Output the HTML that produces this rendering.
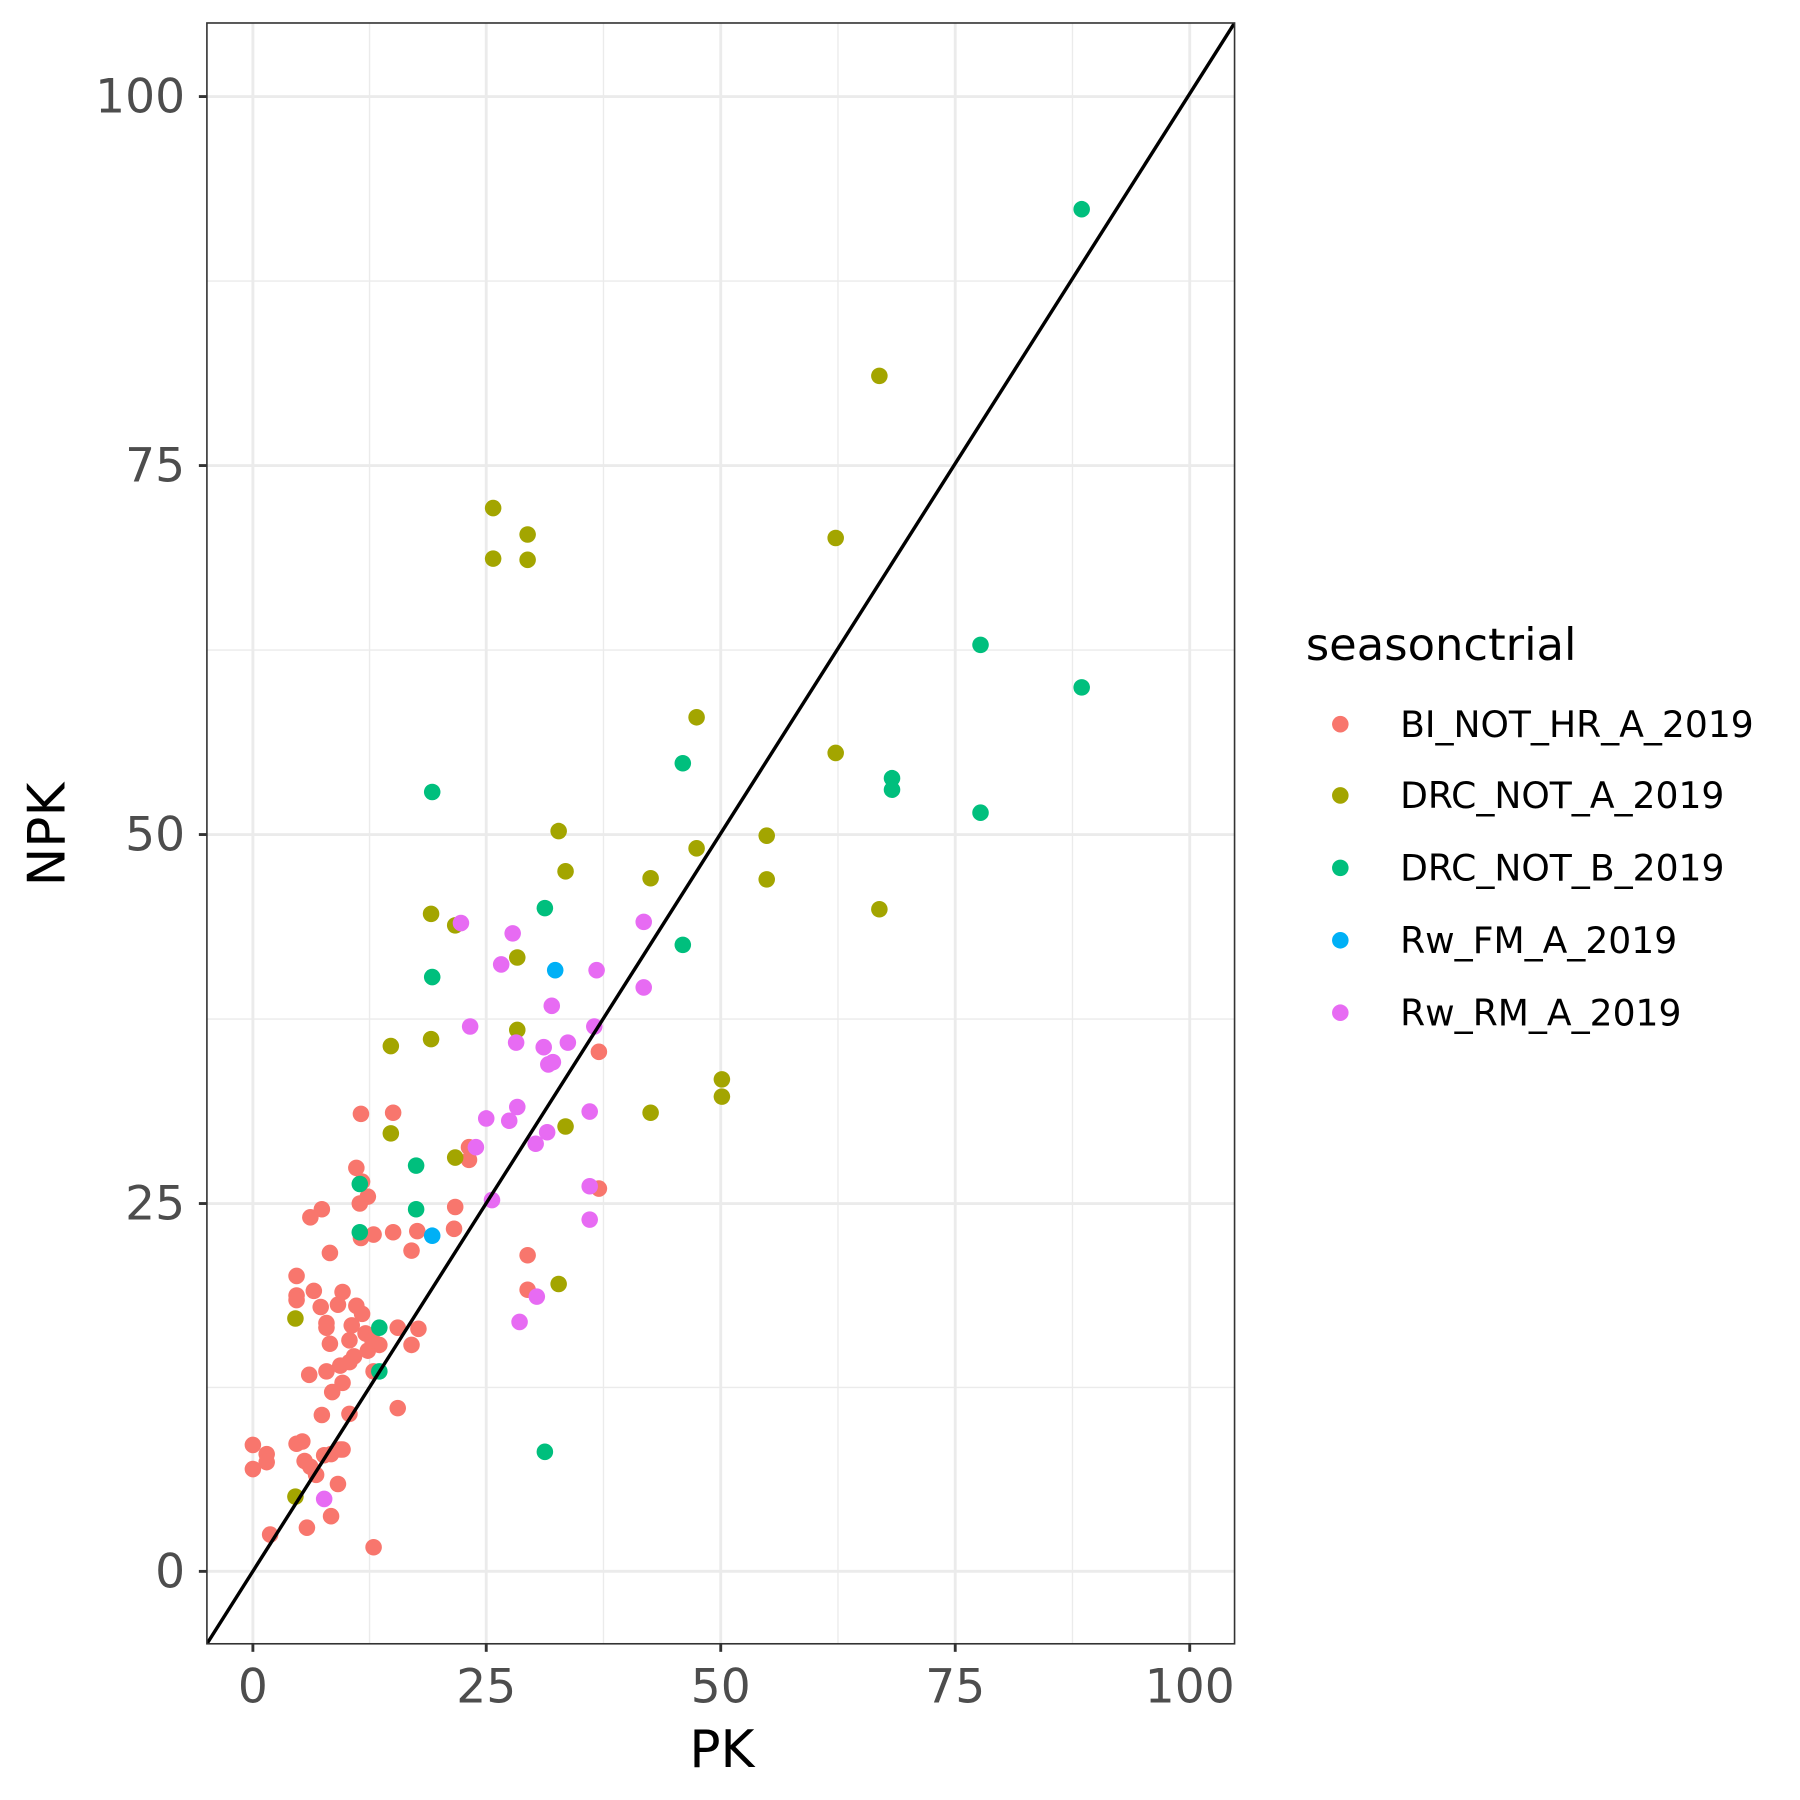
<!DOCTYPE html>
<html><head><style>html,body{margin:0;padding:0;background:#fff}svg{display:block}</style></head><body>
<svg width="1800" height="1800" viewBox="0 0 1800 1800" xmlns="http://www.w3.org/2000/svg" font-family="DejaVu Sans, Liberation Sans, sans-serif">
<rect width="1800" height="1800" fill="#fff"/>
<g transform="scale(1.1495)">
<defs><clipPath id="c"><rect x="180" y="20" width="894" height="1410"/></clipPath></defs>
<g stroke="#EBEBEB" stroke-width="1.2">
<line x1="321.5" y1="20" x2="321.5" y2="1430"/><line x1="525" y1="20" x2="525" y2="1430"/><line x1="729" y1="20" x2="729" y2="1430"/><line x1="933" y1="20" x2="933" y2="1430"/>
<line x1="180" y1="244.5" x2="1074" y2="244.5"/><line x1="180" y1="565.5" x2="1074" y2="565.5"/><line x1="180" y1="886.5" x2="1074" y2="886.5"/><line x1="180" y1="1207" x2="1074" y2="1207"/>
</g>
<g stroke="#EBEBEB" stroke-width="2.5">
<line x1="220" y1="20" x2="220" y2="1430"/><line x1="423" y1="20" x2="423" y2="1430"/><line x1="627" y1="20" x2="627" y2="1430"/><line x1="831" y1="20" x2="831" y2="1430"/><line x1="1035" y1="20" x2="1035" y2="1430"/>
<line x1="180" y1="84" x2="1074" y2="84"/><line x1="180" y1="405" x2="1074" y2="405"/><line x1="180" y1="726" x2="1074" y2="726"/><line x1="180" y1="1047" x2="1074" y2="1047"/><line x1="180" y1="1367" x2="1074" y2="1367"/>
</g>
<g clip-path="url(#c)">
<g fill="#F8766D">
<circle cx="220" cy="1257" r="7.2"/><circle cx="220" cy="1278" r="7.2"/><circle cx="232" cy="1265" r="7.2"/><circle cx="232" cy="1272" r="7.2"/><circle cx="235" cy="1335" r="7.2"/><circle cx="267" cy="1329" r="7.2"/><circle cx="325" cy="1346" r="7.2"/><circle cx="288" cy="1319" r="7.2"/><circle cx="294" cy="1291" r="7.2"/><circle cx="258" cy="1256" r="7.2"/><circle cx="263" cy="1254" r="7.2"/><circle cx="265" cy="1271" r="7.2"/><circle cx="270" cy="1276" r="7.2"/><circle cx="275" cy="1283" r="7.2"/><circle cx="282" cy="1266" r="7.2"/><circle cx="288" cy="1265" r="7.2"/><circle cx="296" cy="1261" r="7.2"/><circle cx="298" cy="1261" r="7.2"/><circle cx="280" cy="1231" r="7.2"/><circle cx="304" cy="1230" r="7.2"/><circle cx="346" cy="1225" r="7.2"/><circle cx="269" cy="1196" r="7.2"/><circle cx="284" cy="1193" r="7.2"/><circle cx="289" cy="1211" r="7.2"/><circle cx="298" cy="1203" r="7.2"/><circle cx="296" cy="1188" r="7.2"/><circle cx="304" cy="1185" r="7.2"/><circle cx="308" cy="1180" r="7.2"/><circle cx="320" cy="1175" r="7.2"/><circle cx="325" cy="1193" r="7.2"/><circle cx="330" cy="1170" r="7.2"/><circle cx="287" cy="1169" r="7.2"/><circle cx="304" cy="1166" r="7.2"/><circle cx="306" cy="1153" r="7.2"/><circle cx="318" cy="1160" r="7.2"/><circle cx="324" cy="1166" r="7.2"/><circle cx="346" cy="1155" r="7.2"/><circle cx="358" cy="1170" r="7.2"/><circle cx="364" cy="1156" r="7.2"/><circle cx="284" cy="1155" r="7.2"/><circle cx="284" cy="1151" r="7.2"/><circle cx="279" cy="1137" r="7.2"/><circle cx="294" cy="1135" r="7.2"/><circle cx="310" cy="1136" r="7.2"/><circle cx="315" cy="1143" r="7.2"/><circle cx="298" cy="1124" r="7.2"/><circle cx="273" cy="1123" r="7.2"/><circle cx="258" cy="1127" r="7.2"/><circle cx="258" cy="1110" r="7.2"/><circle cx="258" cy="1131" r="7.2"/><circle cx="287" cy="1090" r="7.2"/><circle cx="314" cy="1077" r="7.2"/><circle cx="325" cy="1074" r="7.2"/><circle cx="342" cy="1072" r="7.2"/><circle cx="363" cy="1071" r="7.2"/><circle cx="358" cy="1088" r="7.2"/><circle cx="395" cy="1069" r="7.2"/><circle cx="396" cy="1050" r="7.2"/><circle cx="408" cy="1009" r="7.2"/><circle cx="408" cy="998" r="7.2"/><circle cx="313" cy="1047" r="7.2"/><circle cx="320" cy="1041" r="7.2"/><circle cx="315" cy="1028" r="7.2"/><circle cx="310" cy="1016" r="7.2"/><circle cx="270" cy="1059" r="7.2"/><circle cx="280" cy="1052" r="7.2"/><circle cx="314" cy="969" r="7.2"/><circle cx="342" cy="968" r="7.2"/><circle cx="459" cy="1092" r="7.2"/><circle cx="459" cy="1122" r="7.2"/><circle cx="521" cy="1034" r="7.2"/><circle cx="521" cy="915" r="7.2"/>
</g>
<g fill="#A3A500">
<circle cx="765" cy="327" r="7.2"/><circle cx="429" cy="442" r="7.2"/><circle cx="459" cy="465" r="7.2"/><circle cx="429" cy="486" r="7.2"/><circle cx="459" cy="487" r="7.2"/><circle cx="727" cy="468" r="7.2"/><circle cx="606" cy="624" r="7.2"/><circle cx="727" cy="655" r="7.2"/><circle cx="486" cy="723" r="7.2"/><circle cx="667" cy="727" r="7.2"/><circle cx="606" cy="738" r="7.2"/><circle cx="492" cy="758" r="7.2"/><circle cx="566" cy="764" r="7.2"/><circle cx="667" cy="765" r="7.2"/><circle cx="765" cy="791" r="7.2"/><circle cx="375" cy="795" r="7.2"/><circle cx="396" cy="805" r="7.2"/><circle cx="450" cy="833" r="7.2"/><circle cx="450" cy="896" r="7.2"/><circle cx="375" cy="904" r="7.2"/><circle cx="340" cy="910" r="7.2"/><circle cx="628" cy="939" r="7.2"/><circle cx="628" cy="954" r="7.2"/><circle cx="566" cy="968" r="7.2"/><circle cx="492" cy="980" r="7.2"/><circle cx="340" cy="986" r="7.2"/><circle cx="396" cy="1007" r="7.2"/><circle cx="486" cy="1117" r="7.2"/><circle cx="257" cy="1147" r="7.2"/><circle cx="257" cy="1302" r="7.2"/>
</g>
<g fill="#00BF7D">
<circle cx="941" cy="182" r="7.2"/><circle cx="853" cy="561" r="7.2"/><circle cx="941" cy="598" r="7.2"/><circle cx="594" cy="664" r="7.2"/><circle cx="776" cy="677" r="7.2"/><circle cx="776" cy="687" r="7.2"/><circle cx="853" cy="707" r="7.2"/><circle cx="376" cy="689" r="7.2"/><circle cx="474" cy="790" r="7.2"/><circle cx="594" cy="822" r="7.2"/><circle cx="376" cy="850" r="7.2"/><circle cx="362" cy="1014" r="7.2"/><circle cx="313" cy="1030" r="7.2"/><circle cx="362" cy="1052" r="7.2"/><circle cx="313" cy="1072" r="7.2"/><circle cx="330" cy="1155" r="7.2"/><circle cx="330" cy="1193" r="7.2"/><circle cx="474" cy="1263" r="7.2"/>
</g>
<g fill="#00B0F6"><circle cx="483" cy="844" r="7.2"/><circle cx="376" cy="1075" r="7.2"/></g>
<g fill="#E76BF3">
<circle cx="401" cy="803" r="7.2"/><circle cx="446" cy="812" r="7.2"/><circle cx="436" cy="839" r="7.2"/><circle cx="560" cy="802" r="7.2"/><circle cx="519" cy="844" r="7.2"/><circle cx="560" cy="859" r="7.2"/><circle cx="480" cy="875" r="7.2"/><circle cx="517" cy="893" r="7.2"/><circle cx="409" cy="893" r="7.2"/><circle cx="449" cy="907" r="7.2"/><circle cx="473" cy="911" r="7.2"/><circle cx="494" cy="907" r="7.2"/><circle cx="477" cy="926" r="7.2"/><circle cx="481" cy="924" r="7.2"/><circle cx="423" cy="973" r="7.2"/><circle cx="450" cy="963" r="7.2"/><circle cx="443" cy="975" r="7.2"/><circle cx="513" cy="967" r="7.2"/><circle cx="476" cy="985" r="7.2"/><circle cx="466" cy="995" r="7.2"/><circle cx="414" cy="998" r="7.2"/><circle cx="513" cy="1032" r="7.2"/><circle cx="428" cy="1044" r="7.2"/><circle cx="513" cy="1061" r="7.2"/><circle cx="467" cy="1128" r="7.2"/><circle cx="452" cy="1150" r="7.2"/><circle cx="282" cy="1304" r="7.2"/>
</g>
<line x1="180" y1="1430" x2="1074" y2="20" stroke="#000" stroke-width="3"/>
</g>
<rect x="180" y="20" width="894" height="1410" fill="none" stroke="#333" stroke-width="1.4"/>
<g stroke="#333" stroke-width="2.5">
<line x1="220" y1="1430" x2="220" y2="1437"/><line x1="423" y1="1430" x2="423" y2="1437"/><line x1="627" y1="1430" x2="627" y2="1437"/><line x1="831" y1="1430" x2="831" y2="1437"/><line x1="1035" y1="1430" x2="1035" y2="1437"/>
<line x1="173" y1="84" x2="180" y2="84"/><line x1="173" y1="405" x2="180" y2="405"/><line x1="173" y1="726" x2="180" y2="726"/><line x1="173" y1="1047" x2="180" y2="1047"/><line x1="173" y1="1367" x2="180" y2="1367"/>
</g>
<g fill="#4D4D4D" font-size="41">
<g text-anchor="middle"><text x="220" y="1481">0</text><text x="423" y="1481">25</text><text x="627" y="1481">50</text><text x="831" y="1481">75</text><text x="1035" y="1481">100</text></g>
<g text-anchor="end"><text x="161" y="98">100</text><text x="161" y="419">75</text><text x="161" y="740">50</text><text x="161" y="1061">25</text><text x="161" y="1381">0</text></g>
</g>
<text x="628" y="1537" text-anchor="middle" font-size="45">PK</text>
<text transform="translate(56,726) rotate(-90)" text-anchor="middle" font-size="45">NPK</text>
<text x="1136" y="574" font-size="39">seasonctrial</text>
<g font-size="31.4">
<circle cx="1166" cy="630" r="7.2" fill="#F8766D"/><text x="1218" y="641">BI_NOT_HR_A_2019</text>
<circle cx="1166" cy="692" r="7.2" fill="#A3A500"/><text x="1218" y="703">DRC_NOT_A_2019</text>
<circle cx="1166" cy="755" r="7.2" fill="#00BF7D"/><text x="1218" y="766">DRC_NOT_B_2019</text>
<circle cx="1166" cy="818" r="7.2" fill="#00B0F6"/><text x="1218" y="829">Rw_FM_A_2019</text>
<circle cx="1166" cy="881" r="7.2" fill="#E76BF3"/><text x="1218" y="892">Rw_RM_A_2019</text>
</g>
</g>
</svg>
</body></html>
